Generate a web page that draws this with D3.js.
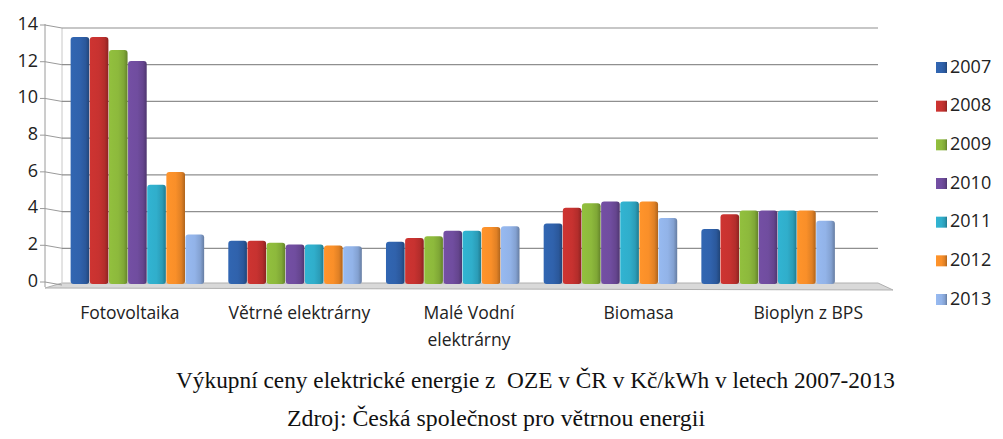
<!DOCTYPE html>
<html><head><meta charset="utf-8">
<script src="https://cdn.jsdelivr.net/npm/d3@7"></script>
<style>body{margin:0;background:#fff}svg{display:block}</style>
</head><body>
<svg id="c" width="1003" height="439"></svg>
<script>
const categories = ["Fotovoltaika", "Větrné elektrárny", "Malé Vodní\nelektrárny", "Biomasa", "Bioplyn z BPS"];
const years = ["2007","2008","2009","2010","2011","2012","2013"];
const v2007 = [13.45, 2.35, 2.3, 3.3, 3.0];
const v2008 = [13.45, 2.35, 2.5, 4.15, 3.8];
const v2009 = [12.75, 2.25, 2.6, 4.4, 4.0];
const v2010 = [12.15, 2.15, 2.9, 4.5, 4.0];
const v2011 = [5.4, 2.15, 2.9, 4.5, 4.0];
const v2012 = [6.1, 2.1, 3.1, 4.5, 4.0];
const v2013 = [2.7, 2.05, 3.15, 3.6, 3.45];
const series = [v2007, v2008, v2009, v2010, v2011, v2012, v2013];
const yTicks = [0,2,4,6,8,10,12,14];
const colors = ["#2e5fa6","#c0302e","#88b33a","#6c4a99","#2ea8c4","#f08a28","#8dade0"];
const title = "Výkupní ceny elektrické energie z  OZE v ČR v Kč/kWh v letech 2007-2013";
const source = "Zdroj: Česká společnost pro větrnou energii";

const svg = d3.select("#c");
const y = d3.scaleLinear().domain([0,14]).range([284, 27]);
const x0 = d3.scaleBand().domain(categories).range([58, 848]).paddingInner(0.15).paddingOuter(0.08);
const x1 = d3.scaleBand().domain(years).range([0, x0.bandwidth()]);
const xLab = d3.scaleBand().domain(categories).range([45, 893]);

// gradients
const defs = svg.append("defs");
colors.forEach((c,i)=>{
  const g = defs.append("linearGradient").attr("id","g"+i).attr("x1","0").attr("x2","1").attr("y1","0").attr("y2","0");
  g.append("stop").attr("offset","0").attr("stop-color", d3.color(c).brighter(0.2));
  g.append("stop").attr("offset","0.5").attr("stop-color", d3.color(c).brighter(0.1));
  g.append("stop").attr("offset","0.8").attr("stop-color", d3.color(c).darker(0.2));
  g.append("stop").attr("offset","1").attr("stop-color", d3.color(c).darker(0.9));
});

// floor
svg.append("polygon").attr("points", [[45,288],[62,283],[878,283],[893,290]].map(p=>p.join(",")).join(" "))
  .attr("fill","#d9d9d9").attr("stroke","#b0b0b0");

// gridlines & axis
const axisX = 45, backX = 62, rightX = 878;
svg.append("line").attr("x1",axisX).attr("x2",axisX).attr("y1",y(14)-3).attr("y2",y(0)+3).attr("stroke","#9a9a9a");
svg.append("line").attr("x1",backX).attr("x2",backX).attr("y1",y(14)+1).attr("y2",y(0)).attr("stroke","#c8c8c8");
yTicks.forEach(t=>{
  const yy = y(t);
  svg.append("line").attr("x1",axisX-5).attr("x2",axisX).attr("y1",yy-2).attr("y2",yy-2).attr("stroke","#9a9a9a");
  svg.append("line").attr("x1",axisX).attr("x2",backX).attr("y1",yy-2).attr("y2",yy+1).attr("stroke","#9a9a9a");
  if (t>0) svg.append("line").attr("x1",backX).attr("x2",rightX).attr("y1",yy+1).attr("y2",yy+1).attr("stroke","#8f8f8f").attr("stroke-width",1.2);
  svg.append("text").attr("x",38).attr("y",yy-2).attr("text-anchor","end").attr("dominant-baseline","middle")
    .attr("font-family","Open Sans, sans-serif").attr("font-size",18).attr("fill","#222").text(t);
});

// bars
categories.forEach((cat,ci)=>{
  years.forEach((yr,si)=>{
    const v = series[si][ci];
    const bx = x0(cat)+x1(yr), bw = x1.bandwidth();
    svg.append("rect").attr("x",bx).attr("y",y(v)).attr("width",bw-0.5).attr("height",y(0)-y(v))
      .attr("rx",3).attr("fill","url(#g"+si+")");
  });
});

// category labels
categories.forEach(cat=>{
  const lines = cat.split("\n");
  const cx = xLab(cat)+xLab.bandwidth()/2;
  const t = svg.append("text").attr("x", cx).attr("y",319).attr("text-anchor","middle")
    .attr("font-family","Open Sans, sans-serif").attr("font-size",17.5).attr("fill","#222");
  lines.forEach((l,i)=> t.append("tspan").attr("x", cx).attr("dy", i?27:0).text(l));
});

// legend
const ly = d3.scalePoint().domain(years).range([67, 299]);
years.forEach((yr,i)=>{
  svg.append("rect").attr("x",936).attr("y",ly(yr)-5).attr("width",11).attr("height",11).attr("fill","url(#g"+i+")");
  svg.append("text").attr("x",950).attr("y",ly(yr)+1).attr("dominant-baseline","middle")
    .attr("font-family","Open Sans, sans-serif").attr("font-size",18).attr("fill","#222").text(yr);
});

// captions
svg.append("text").attr("x",176).attr("y",388).attr("font-family","Liberation Serif, serif")
  .attr("font-size",23).attr("fill","#111").style("white-space","pre")
  .attr("textLength",719).attr("lengthAdjust","spacingAndGlyphs").text(title);
svg.append("text").attr("x",287).attr("y",426).attr("font-family","Liberation Serif, serif")
  .attr("font-size",23).attr("fill","#111")
  .attr("textLength",418).attr("lengthAdjust","spacingAndGlyphs").text(source);
</script>
</body></html>
